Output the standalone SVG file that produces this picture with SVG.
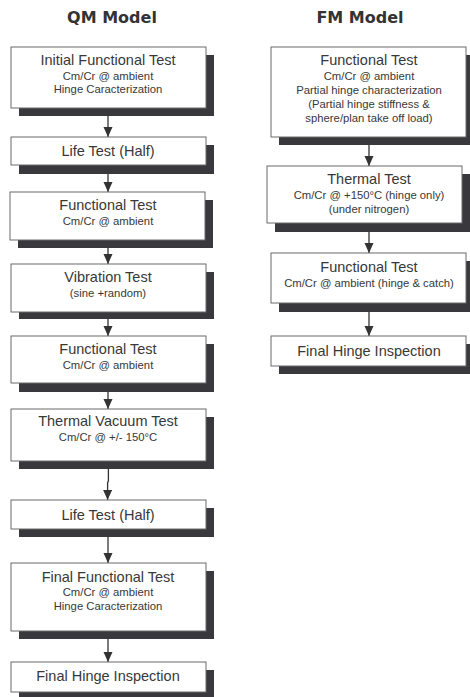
<svg xmlns="http://www.w3.org/2000/svg" width="470" height="697" viewBox="0 0 470 697">
<style>
  .sh { fill: #39383d; }
  .bx { fill: #ffffff; stroke: #6a6a6a; stroke-width: 1; }
  .t { font-family: "Liberation Sans", Arial, sans-serif; font-size: 14.5px; fill: #383838; text-anchor: middle; }
  .s { font-family: "Liberation Sans", Arial, sans-serif; font-size: 11.3px; fill: #383838; text-anchor: middle; }
  .h { font-family: "DejaVu Sans", sans-serif; font-weight: bold; font-size: 16px; fill: #333333; text-anchor: middle; }
  .c { fill: none; stroke: #333333; stroke-width: 1.3; marker-end: url(#arr); }
</style>
<defs>
  <marker id="arr" markerUnits="userSpaceOnUse" markerWidth="10" markerHeight="10" refX="10" refY="4.5" orient="auto">
    <path d="M0,0 L10,4.5 L0,9 Z" fill="#333333"/>
  </marker>
</defs>
<rect width="470" height="697" fill="#ffffff"/>
<text class="h" x="112" y="23">QM Model</text>
<text class="h" x="360" y="23">FM Model</text>

<g id="connectors">
  <line class="c" x1="108" y1="116" x2="108" y2="137"/>
  <line class="c" x1="108" y1="174" x2="108" y2="192"/>
  <line class="c" x1="108" y1="248" x2="108" y2="264"/>
  <line class="c" x1="108" y1="319" x2="108" y2="336"/>
  <line class="c" x1="108" y1="392" x2="108" y2="409"/>
  <polyline class="c" points="108.4,469 108.4,481 107.6,482.5 107.6,500"/>
  <line class="c" x1="108" y1="537" x2="108" y2="563"/>
  <line class="c" x1="108" y1="639" x2="108" y2="662"/>
  <line class="c" x1="369" y1="145" x2="369" y2="166"/>
  <line class="c" x1="369" y1="232" x2="369" y2="253"/>
  <line class="c" x1="369" y1="312" x2="369" y2="336"/>
</g>

<g id="qm1">
  <rect class="sh" x="19" y="55" width="195" height="61"/>
  <rect class="bx" x="11" y="47" width="195" height="61"/>
  <text class="t" x="108" y="65">Initial Functional Test</text>
  <text class="s" x="108" y="80">Cm/Cr @ ambient</text>
  <text class="s" x="108" y="93">Hinge Caracterization</text>
</g>
<g id="qm2">
  <rect class="sh" x="19" y="145" width="195" height="29"/>
  <rect class="bx" x="11" y="137" width="195" height="28"/>
  <text class="t" x="108" y="156">Life Test (Half)</text>
</g>
<g id="qm3">
  <rect class="sh" x="18" y="200" width="195" height="48"/>
  <rect class="bx" x="10" y="192" width="195" height="48"/>
  <text class="t" x="108" y="210">Functional Test</text>
  <text class="s" x="108" y="224.5">Cm/Cr @ ambient</text>
</g>
<g id="qm4">
  <rect class="sh" x="19" y="272" width="195" height="47"/>
  <rect class="bx" x="11" y="264" width="195" height="48"/>
  <text class="t" x="108" y="282">Vibration Test</text>
  <text class="s" x="108" y="297">(sine +random)</text>
</g>
<g id="qm5">
  <rect class="sh" x="19" y="344" width="195" height="48"/>
  <rect class="bx" x="11" y="336" width="195" height="47"/>
  <text class="t" x="108" y="353.5">Functional Test</text>
  <text class="s" x="108" y="368.5">Cm/Cr @ ambient</text>
</g>
<g id="qm6">
  <rect class="sh" x="19" y="417" width="195" height="52"/>
  <rect class="bx" x="11" y="409" width="195" height="52"/>
  <text class="t" x="108" y="426">Thermal Vacuum Test</text>
  <text class="s" x="108" y="441">Cm/Cr @ +/- 150°C</text>
</g>
<g id="qm7">
  <rect class="sh" x="19" y="508" width="195" height="29"/>
  <rect class="bx" x="11" y="500" width="195" height="29"/>
  <text class="t" x="108" y="519.5">Life Test (Half)</text>
</g>
<g id="qm8">
  <rect class="sh" x="19" y="571" width="195" height="68"/>
  <rect class="bx" x="11" y="563" width="195" height="68"/>
  <text class="t" x="108" y="582">Final Functional Test</text>
  <text class="s" x="108" y="596">Cm/Cr @ ambient</text>
  <text class="s" x="108" y="610">Hinge Caracterization</text>
</g>
<g id="qm9">
  <rect class="sh" x="19" y="670" width="195" height="27"/>
  <rect class="bx" x="11" y="662" width="195" height="30"/>
  <text class="t" x="108" y="680.5">Final Hinge Inspection</text>
</g>

<g id="fm1">
  <rect class="sh" x="279" y="55" width="195" height="90"/>
  <rect class="bx" x="271" y="47" width="195" height="90"/>
  <text class="t" x="369" y="65">Functional Test</text>
  <text class="s" x="369" y="79.5">Cm/Cr @ ambient</text>
  <text class="s" x="369" y="93.5">Partial hinge characterization</text>
  <text class="s" x="369" y="107.5">(Partial hinge stiffness &amp;</text>
  <text class="s" x="369" y="121.5">sphere/plan take off load)</text>
</g>
<g id="fm2">
  <rect class="sh" x="275" y="174" width="195" height="58"/>
  <rect class="bx" x="267" y="166" width="195" height="57"/>
  <text class="t" x="369" y="183.5">Thermal Test</text>
  <text class="s" x="369" y="199">Cm/Cr @ +150°C (hinge only)</text>
  <text class="s" x="369" y="212.5">(under nitrogen)</text>
</g>
<g id="fm3">
  <rect class="sh" x="279" y="261" width="195" height="51"/>
  <rect class="bx" x="271" y="253" width="195" height="50"/>
  <text class="t" x="369" y="272">Functional Test</text>
  <text class="s" x="369" y="287">Cm/Cr @ ambient (hinge &amp; catch)</text>
</g>
<g id="fm4">
  <rect class="sh" x="279" y="344" width="195" height="30"/>
  <rect class="bx" x="271" y="336" width="195" height="30"/>
  <text class="t" x="369" y="355.5">Final Hinge Inspection</text>
</g>
</svg>
